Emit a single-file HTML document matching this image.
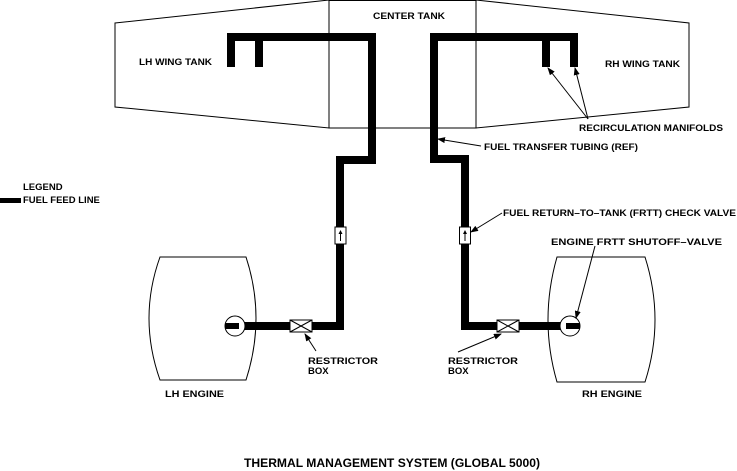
<!DOCTYPE html>
<html><head><meta charset="utf-8"><style>
html,body{margin:0;padding:0;background:#fff;}
svg{display:block;}
text{font-family:"Liberation Sans",Arial,sans-serif;font-weight:700;fill:#000;}
</style></head><body>
<svg width="737" height="471" viewBox="0 0 737 471" xmlns="http://www.w3.org/2000/svg">
<defs>
<marker id="ah" markerWidth="8" markerHeight="6" refX="7" refY="3" orient="auto" markerUnits="userSpaceOnUse">
<path d="M0,0 L8,3 L0,6 Z" fill="#000"/></marker>
</defs>
<g fill="none" stroke="#000" stroke-width="1">
<polygon points="115,23 329,0 329,128 115,107"/>
<rect x="329" y="0.5" width="147" height="127.5"/>
<polygon points="476,0 689,23 689,107 476,128"/>
<path d="M160,257 L246,257 Q266,318 246,380 L160,380 Q138,318 160,257 Z"/>
<path d="M557,257 L645,257 Q665,320 645,382 L557,382 Q539,320 557,257 Z"/>
</g>
<g fill="none" stroke="#000" stroke-width="8" stroke-linejoin="miter">
<polyline points="231,67 231,37 372,37 372,160 340,160 340,326 240,326"/>
<line x1="259" y1="37" x2="259" y2="67"/>
<polyline points="574,67 574,37 434,37 434,159 465,159 465,326 566,326"/>
<line x1="546" y1="37" x2="546" y2="67"/>
</g>
<rect x="0" y="198" width="21" height="5" fill="#000"/>
<g font-weight="bold" font-family="Liberation Sans, Arial, sans-serif">
<text x="23" y="190" font-size="9.5" font-weight="bold">LEGEND</text>
<text x="23" y="203" font-size="9.5" font-weight="bold">FUEL FEED LINE</text>
</g>
<g stroke="#000" stroke-width="1" fill="#fff">
<rect x="335" y="227" width="11" height="17"/>
<rect x="459.5" y="227" width="11" height="17"/>
<rect x="290" y="320" width="22" height="12"/>
<rect x="497" y="320" width="22" height="12"/>
</g>
<g stroke="#000" stroke-width="1">
<line x1="340.5" y1="241" x2="340.5" y2="232"/>
<line x1="465" y1="241" x2="465" y2="232"/>
<line x1="290" y1="320" x2="312" y2="332"/><line x1="290" y1="332" x2="312" y2="320"/>
<line x1="497" y1="320" x2="519" y2="332"/><line x1="497" y1="332" x2="519" y2="320"/>
</g>
<path d="M338.5,234 L340.5,230 L342.5,234Z M463,234 L465,230 L467,234Z" fill="#000"/>
<g stroke="#000" stroke-width="1" fill="#fff">
<circle cx="235" cy="326" r="10"/>
<circle cx="570" cy="326" r="10"/>
</g>
<rect x="225" y="323" width="14" height="6" fill="#000"/>
<rect x="566" y="323" width="14" height="6" fill="#000"/>
<g stroke="#000" stroke-width="1" fill="none" marker-end="url(#ah)">
<line x1="588" y1="119" x2="548" y2="68"/>
<line x1="588" y1="119" x2="575" y2="68"/>
<line x1="481" y1="146" x2="438" y2="139"/>
<line x1="502" y1="213" x2="471" y2="232"/>
<line x1="595" y1="246" x2="576" y2="318"/>
<line x1="316" y1="351" x2="305" y2="334"/>
<line x1="458" y1="352" x2="501" y2="334"/>
</g>
<g font-weight="bold" font-family="Liberation Sans, Arial, sans-serif">
<text x="373" y="19" font-size="9.5" font-weight="bold" textLength="72" lengthAdjust="spacingAndGlyphs">CENTER TANK</text>
<text x="139" y="65" font-size="9.5" font-weight="bold" textLength="73" lengthAdjust="spacingAndGlyphs">LH WING TANK</text>
<text x="605" y="67" font-size="9.5" font-weight="bold" textLength="75" lengthAdjust="spacingAndGlyphs">RH WING TANK</text>
<text x="579" y="131" font-size="9.5" font-weight="bold" textLength="144" lengthAdjust="spacingAndGlyphs">RECIRCULATION MANIFOLDS</text>
<text x="484" y="150" font-size="9.5" font-weight="bold" textLength="154" lengthAdjust="spacingAndGlyphs">FUEL TRANSFER TUBING (REF)</text>
<text x="503" y="216" font-size="9.5" font-weight="bold" textLength="233" lengthAdjust="spacingAndGlyphs">FUEL RETURN–TO–TANK (FRTT) CHECK VALVE</text>
<text x="551" y="245" font-size="9.5" font-weight="bold" textLength="171" lengthAdjust="spacingAndGlyphs">ENGINE FRTT SHUTOFF–VALVE</text>
<text x="308" y="364" font-size="9.5" font-weight="bold" textLength="70" lengthAdjust="spacingAndGlyphs">RESTRICTOR</text>
<text x="308" y="374" font-size="9.5" font-weight="bold">BOX</text>
<text x="448" y="364" font-size="9.5" font-weight="bold" textLength="70" lengthAdjust="spacingAndGlyphs">RESTRICTOR</text>
<text x="448" y="374" font-size="9.5" font-weight="bold">BOX</text>
<text x="165" y="397" font-size="9.5" font-weight="bold" textLength="59" lengthAdjust="spacingAndGlyphs">LH ENGINE</text>
<text x="582" y="397" font-size="9.5" font-weight="bold" textLength="60" lengthAdjust="spacingAndGlyphs">RH ENGINE</text>
<text x="244" y="467" font-size="11.5" font-weight="bold" textLength="296" lengthAdjust="spacingAndGlyphs">THERMAL MANAGEMENT SYSTEM (GLOBAL 5000)</text>
</g>
</svg>
</body></html>
